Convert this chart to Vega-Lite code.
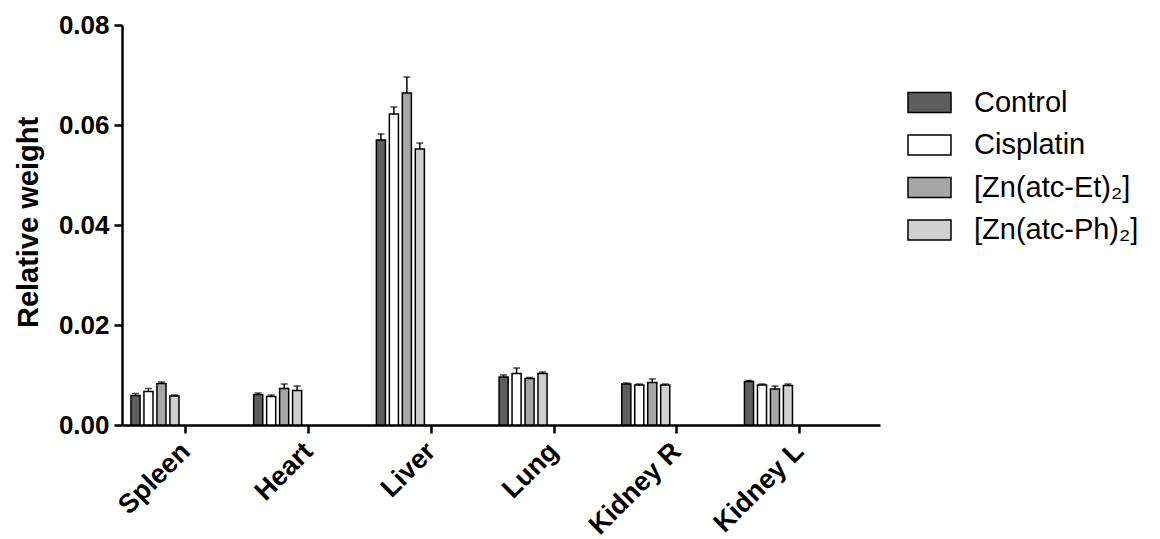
{
  "$schema": "https://vega.github.io/schema/vega-lite/v6.json",
  "width": 758,
  "height": 400,
  "autosize": {"type": "none"},
  "padding": {"left": 122, "top": 25, "right": 280, "bottom": 114},
  "background": "white",
  "config": {"view": {"stroke": null}, "font": "Liberation Sans"},
  "data": {
    "values": [
      {"organ": "Spleen", "group": "Control", "value": 0.0059, "upper": 0.0063},
      {"organ": "Spleen", "group": "Cisplatin", "value": 0.0067, "upper": 0.0073},
      {"organ": "Spleen", "group": "[Zn(atc-Et)₂]", "value": 0.0083, "upper": 0.0086},
      {"organ": "Spleen", "group": "[Zn(atc-Ph)₂]", "value": 0.0058, "upper": 0.0060},
      {"organ": "Heart", "group": "Control", "value": 0.0061, "upper": 0.0064},
      {"organ": "Heart", "group": "Cisplatin", "value": 0.0057, "upper": 0.0060},
      {"organ": "Heart", "group": "[Zn(atc-Et)₂]", "value": 0.0073, "upper": 0.0082},
      {"organ": "Heart", "group": "[Zn(atc-Ph)₂]", "value": 0.0069, "upper": 0.0078},
      {"organ": "Liver", "group": "Control", "value": 0.0570, "upper": 0.0582},
      {"organ": "Liver", "group": "Cisplatin", "value": 0.0622, "upper": 0.0636},
      {"organ": "Liver", "group": "[Zn(atc-Et)₂]", "value": 0.0664, "upper": 0.0696},
      {"organ": "Liver", "group": "[Zn(atc-Ph)₂]", "value": 0.0552, "upper": 0.0564},
      {"organ": "Lung", "group": "Control", "value": 0.0096, "upper": 0.0100},
      {"organ": "Lung", "group": "Cisplatin", "value": 0.0103, "upper": 0.0114},
      {"organ": "Lung", "group": "[Zn(atc-Et)₂]", "value": 0.0093, "upper": 0.0095},
      {"organ": "Lung", "group": "[Zn(atc-Ph)₂]", "value": 0.0103, "upper": 0.0106},
      {"organ": "Kidney R", "group": "Control", "value": 0.0082, "upper": 0.0084},
      {"organ": "Kidney R", "group": "Cisplatin", "value": 0.0080, "upper": 0.0082},
      {"organ": "Kidney R", "group": "[Zn(atc-Et)₂]", "value": 0.0085, "upper": 0.0092},
      {"organ": "Kidney R", "group": "[Zn(atc-Ph)₂]", "value": 0.0080, "upper": 0.0082},
      {"organ": "Kidney L", "group": "Control", "value": 0.0087, "upper": 0.0089},
      {"organ": "Kidney L", "group": "Cisplatin", "value": 0.0080, "upper": 0.0082},
      {"organ": "Kidney L", "group": "[Zn(atc-Et)₂]", "value": 0.0072, "upper": 0.0078},
      {"organ": "Kidney L", "group": "[Zn(atc-Ph)₂]", "value": 0.0079, "upper": 0.0082}
    ]
  },
  "encoding": {
    "x": {
      "field": "organ",
      "type": "nominal",
      "sort": ["Spleen", "Heart", "Liver", "Lung", "Kidney R", "Kidney L"],
      "scale": {"paddingInner": 0, "paddingOuter": 0.0888, "align": 0.12},
      "axis": {
        "title": null,
        "domainColor": "black",
        "domainWidth": 2.5,
        "tickColor": "black",
        "tickWidth": 2.5,
        "tickSize": 8,
        "labelAngle": -45,
        "labelAlign": "right",
        "labelBaseline": "middle",
        "labelPadding": 14,
        "labelFont": "Liberation Sans",
        "labelFontWeight": "bold",
        "labelFontSize": 27,
        "labelColor": "black"
      }
    },
    "xOffset": {
      "field": "group",
      "type": "nominal",
      "sort": ["Control", "Cisplatin", "[Zn(atc-Et)₂]", "[Zn(atc-Ph)₂]"],
      "scale": {"range": [6.35, 54.35], "paddingInner": 0.3, "paddingOuter": 0}
    }
  },
  "layer": [
    {
      "mark": {"type": "bar", "stroke": "black", "strokeWidth": 1.5},
      "encoding": {
        "y": {
          "field": "value",
          "type": "quantitative",
          "scale": {"domain": [0, 0.08], "nice": false},
          "axis": {
            "values": [0, 0.02, 0.04, 0.06, 0.08],
            "format": ".2f",
            "grid": false,
            "domainColor": "black",
            "domainWidth": 2.5,
            "tickColor": "black",
            "tickWidth": 2.5,
            "tickSize": 8,
            "labelPadding": 5,
            "labelFont": "Liberation Sans",
            "labelFontWeight": "bold",
            "labelFontSize": 26,
            "labelColor": "black",
            "title": "Relative weight",
            "titleFont": "Liberation Sans",
            "titleFontWeight": "bold",
            "titleFontSize": 29,
            "titleColor": "black",
            "titleAngle": -90,
            "titleX": -94,
            "titleY": 197,
            "titleAlign": "center",
            "titleBaseline": "middle"
          }
        },
        "fill": {
          "field": "group",
          "type": "nominal",
          "sort": ["Control", "Cisplatin", "[Zn(atc-Et)₂]", "[Zn(atc-Ph)₂]"],
          "scale": {
            "domain": ["Control", "Cisplatin", "[Zn(atc-Et)₂]", "[Zn(atc-Ph)₂]"],
            "range": ["#5e5e5e", "#ffffff", "#a6a6a6", "#d0d0d0"]
          },
          "legend": {
            "title": null,
            "orient": "none",
            "legendX": 793,
            "legendY": 63,
            "padding": 0,
            "symbolType": "M-2,-0.93H2V0.93H-2Z",
            "symbolSize": 462,
            "symbolStrokeColor": "black",
            "symbolStrokeWidth": 1.5,
            "labelOffset": 30,
            "labelFont": "Liberation Sans",
            "labelFontSize": 29,
            "labelColor": "black",
            "rowPadding": 12.5,
            "labelLimit": 400
          }
        }
      }
    },
    {
      "mark": {"type": "rule", "color": "black", "strokeWidth": 1.5},
      "encoding": {
        "y": {"field": "value", "type": "quantitative"},
        "y2": {"field": "upper"}
      }
    },
    {
      "mark": {"type": "tick", "color": "black", "thickness": 1.5, "size": 7},
      "encoding": {
        "y": {"field": "upper", "type": "quantitative"}
      }
    }
  ]
}
